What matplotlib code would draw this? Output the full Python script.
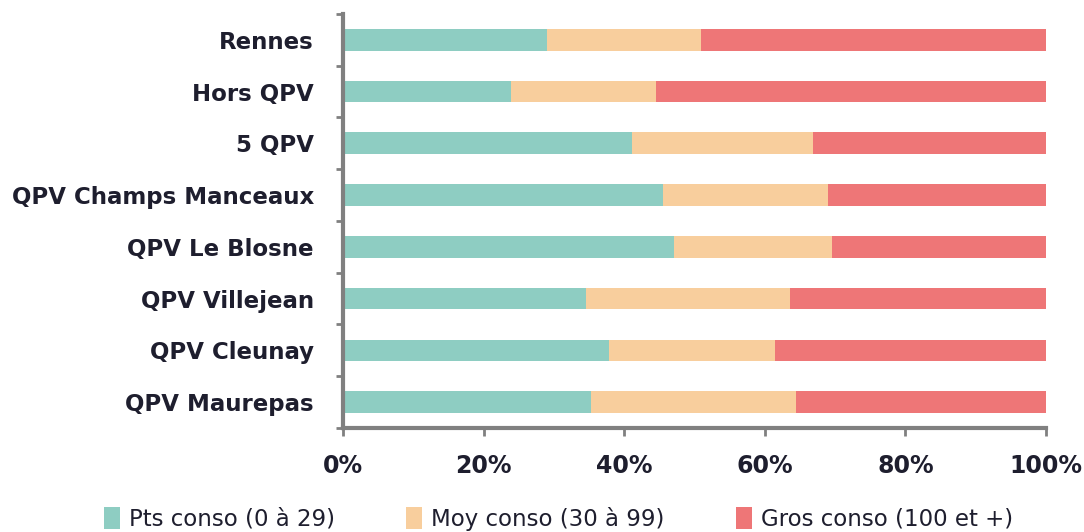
import matplotlib.pyplot as plt
from matplotlib.ticker import PercentFormatter

# données (en %)
categories = ["Rennes", "Hors QPV", "5 QPV", "QPV Champs Manceaux",
              "QPV Le Blosne", "QPV Villejean", "QPV Cleunay", "QPV Maurepas"]
pts_conso = [29.0, 23.9, 41.1, 45.5, 47.1, 34.6, 37.8, 35.3]
moy_conso = [21.9, 20.6, 25.7, 23.5, 22.4, 29.0, 23.6, 29.1]
gros_conso = [49.1, 55.5, 33.2, 31.0, 30.5, 36.4, 38.6, 35.6]
series_labels = ["Pts conso (0 à 29)", "Moy conso (30 à 99)", "Gros conso (100 et +)"]
colors = ["#8ecdc2", "#f8ce9d", "#ee7677"]
text_col = "#1e1e2e"

fig = plt.figure(figsize=(10.84, 5.32), dpi=100)
ax = fig.add_axes([0.3164, 0.1955, 0.6486, 0.7782])

y = list(range(len(categories)))
left = [0] * len(categories)
for vals, lab, col in zip([pts_conso, moy_conso, gros_conso], series_labels, colors):
    ax.barh(y, vals, left=left, height=0.42, color=col, label=lab)
    left = [a + b for a, b in zip(left, vals)]

ax.set_ylim(len(categories) - 0.5, -0.5)
ax.set_xlim(0, 100)
ax.set_yticks(y)
ax.set_yticklabels(categories, fontsize=16.5, fontweight="bold", color=text_col)
ax.set_yticks([i + 0.5 for i in range(-1, len(categories))], minor=True)
ax.tick_params(axis="y", which="major", length=0, pad=21)
ax.tick_params(axis="y", which="minor", length=5, width=2, color="#808080")
ax.set_xticks([0, 20, 40, 60, 80, 100])
ax.xaxis.set_major_formatter(PercentFormatter(decimals=0))
ax.tick_params(axis="x", length=6, width=2, color="#808080", pad=13, labelsize=17)
for t in ax.get_xticklabels():
    t.set_fontweight("bold")
    t.set_color(text_col)

for s in ["top", "right"]:
    ax.spines[s].set_visible(False)
for s in ["left", "bottom"]:
    ax.spines[s].set_color("#808080")
    ax.spines[s].set_linewidth(3)

leg = fig.legend(loc="lower center", bbox_to_anchor=(0.515, -0.036), ncol=3, frameon=False,
                 fontsize=16.5, handlelength=0.7, handleheight=1.1, handletextpad=0.4,
                 columnspacing=3.1)
for t in leg.get_texts():
    t.set_color(text_col)

fig.savefig("out.png", dpi=100)
